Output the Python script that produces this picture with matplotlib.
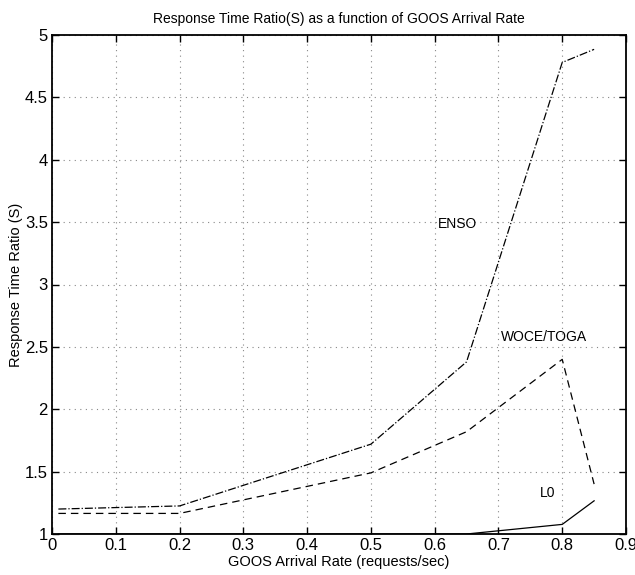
import matplotlib

matplotlib.use("Agg")
import matplotlib.pyplot as plt

# GOOS arrival rate (requests/sec)
RATE = [0.01, 0.2, 0.5, 0.65, 0.8, 0.85]

# response time ratio per product
ENSO = [1.20, 1.225, 1.72, 2.38, 4.78, 4.885]
WOCE_TOGA = [1.165, 1.165, 1.49, 1.82, 2.40, 1.40]
L0 = [1.0, 1.0, 1.0, 1.0, 1.077, 1.266]

XTICKS = [0, 0.1, 0.2, 0.3, 0.4, 0.5, 0.6, 0.7, 0.8, 0.9]
YTICKS = [1, 1.5, 2, 2.5, 3, 3.5, 4, 4.5, 5]

plt.rcParams["font.family"] = ["Liberation Sans", "DejaVu Sans"]

fig = plt.figure(figsize=(6.35, 5.75), dpi=100)
ax = fig.add_axes([52 / 635, 41 / 575, 574 / 635, 499 / 575])

ax.plot(RATE, ENSO, color="black", linestyle="-.", linewidth=0.9)
ax.plot(RATE, WOCE_TOGA, color="black", linestyle=(0, (6, 4)), linewidth=0.9)
ax.plot(RATE, L0, color="black", linestyle="-", linewidth=0.9)

ax.text(0.605, 3.485, "ENSO", fontsize=10, va="center")
ax.text(0.704, 2.58, "WOCE/TOGA", fontsize=10, va="center")
ax.text(0.765, 1.33, "L0", fontsize=10, va="center")

ax.set_xlim(0, 0.9)
ax.set_ylim(1, 5)
ax.set_xticks(XTICKS)
ax.set_xticklabels([f"{t:g}" for t in XTICKS])
ax.set_yticks(YTICKS)
ax.set_yticklabels([f"{t:g}" for t in YTICKS])
ax.tick_params(direction="in", top=True, right=True, length=5, width=1,
               labelsize=12, pad=3)
ax.grid(True, linestyle=(0, (1, 4)), color="#888888", linewidth=0.8)
for s in ax.spines.values():
    s.set_linewidth(1.3)

ax.set_xlabel("GOOS Arrival Rate (requests/sec)", fontsize=10.5, labelpad=1)
ax.set_ylabel("Response Time Ratio (S)", fontsize=10.5, labelpad=1)
ax.set_title("Response Time Ratio(S) as a function of GOOS Arrival Rate",
             fontsize=10, pad=9)

fig.savefig("out.png", dpi=100)
